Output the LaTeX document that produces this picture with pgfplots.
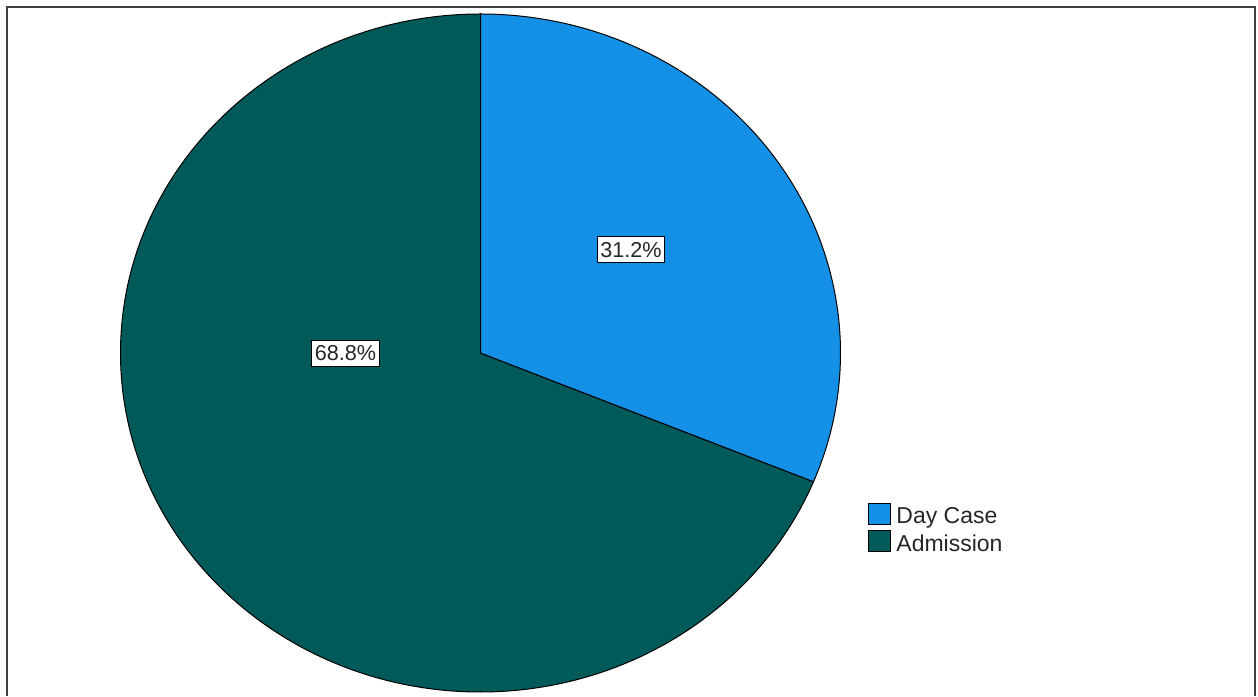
\documentclass[border=0pt]{standalone}
\usepackage{pgfplots}
\pgfplotsset{compat=1.18}
\usepackage{pgfplotstable}
\usepackage{fontspec}
\setmainfont{Liberation Sans}
\definecolor{daycase}{RGB}{20,145,230}
\definecolor{admission}{RGB}{0,90,90}
\pgfplotstableread{
label value
DayCase 31.2
Admission 68.8
}\piedata
\begin{document}
\begin{tikzpicture}
\pgfplotstablegetelem{0}{value}\of\piedata \let\va\pgfplotsretval
\pgfplotstablegetelem{1}{value}\of\piedata \let\vb\pgfplotsretval
\pgfmathsetmacro{\angA}{90-3.6*\va}
\pgfmathsetmacro{\angB}{90+3.6*\vb}
\begin{axis}[name=ax, scale only axis, width=629pt, height=348pt,
  xmin=0, xmax=1258, ymin=0, ymax=696, hide axis, clip=false]
% frame
\draw[line width=1pt, black!75] (axis cs:7,0) -- (axis cs:7,689) -- (axis cs:1255,689) -- (axis cs:1255,0);
% slices
\fill[admission, draw=black, line width=0.5pt] (axis cs:480.5,343) -- (axis cs:480.5,682)
  arc[start angle=90, end angle=\angB, x radius=180pt, y radius=169.5pt] -- cycle;
\fill[daycase, draw=black, line width=0.5pt] (axis cs:480.5,343) -- (axis cs:480.5,682)
  arc[start angle=90, end angle=\angA, x radius=180pt, y radius=169.5pt] -- cycle;
% labels
\node[draw=black, fill=white, line width=0.5pt, inner xsep=1.5pt, inner ysep=0pt, minimum height=13pt, font=\fontsize{10.8}{12}\selectfont, text=black!85] at (axis cs:631,446) {\va\%};
\node[draw=black, fill=white, line width=0.5pt, inner xsep=1.5pt, inner ysep=0pt, minimum height=13pt, font=\fontsize{10.8}{12}\selectfont, text=black!85] at (axis cs:345.5,342.5) {\vb\%};
% legend
\fill[daycase, draw=black, line width=0.5pt] (axis cs:868,171) rectangle (axis cs:890,192);
\fill[admission, draw=black, line width=0.5pt] (axis cs:868,144) rectangle (axis cs:890,165);
\node[anchor=base west, inner sep=0pt, font=\fontsize{11.5}{13}\selectfont, text=black!85] at (axis cs:896,172) {Day Case};
\node[anchor=base west, inner sep=0pt, font=\fontsize{11.5}{13}\selectfont, text=black!85] at (axis cs:896,144) {Admission};
\end{axis}
\pgfresetboundingbox
\useasboundingbox (ax.south west) rectangle (ax.north east);
\end{tikzpicture}
\end{document}
